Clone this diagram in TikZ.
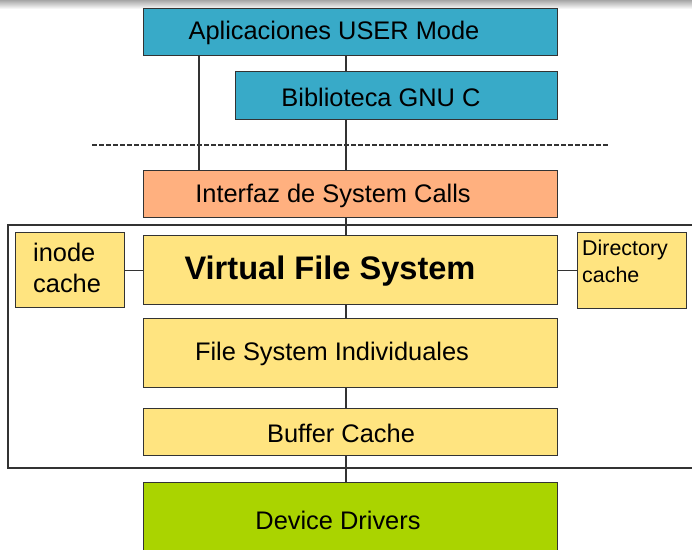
\documentclass[tikz,border=0pt]{standalone}
\usepackage{fontspec}
\setmainfont{Liberation Sans}
\definecolor{tealc}{RGB}{56,170,200}
\definecolor{salmonc}{RGB}{255,176,127}
\definecolor{yellowc}{RGB}{255,228,128}
\definecolor{greenc}{RGB}{170,212,0}
\definecolor{linec}{RGB}{51,51,51}
\begin{document}
\begin{tikzpicture}[x=1bp,y=-1bp,
  box/.style={draw=linec, line width=1.2bp, anchor=north west, inner sep=0pt, minimum width=#1},
  lbl/.style={font=\fontsize{25.5}{30}\selectfont, inner sep=0pt},
  conn/.style={draw=linec, line width=1.2bp}]
\useasboundingbox (0,0) rectangle (692,550);
\shade[top color=gray!70, bottom color=white] (0,0) rectangle (692,9);
% outer frame
\draw[draw=linec, line width=1.2bp] (700,225) -- (8,225) -- (8,468) -- (700,468);
% boxes
\node[box=414bp, minimum height=47bp, fill=tealc] (apps) at (143,8) {};
\node[box=322bp, minimum height=48bp, fill=tealc] (bib) at (235,71) {};
\node[box=414bp, minimum height=47bp, fill=salmonc] (sc) at (143,170) {};
\node[box=414bp, minimum height=69bp, fill=yellowc] (vfs) at (143,235) {};
\node[box=109bp, minimum height=75bp, fill=yellowc] (inode) at (15,232) {};
\node[box=109bp, minimum height=76bp, fill=yellowc] (dir) at (577,232) {};
\node[box=414bp, minimum height=69bp, fill=yellowc] (fsi) at (143,318) {};
\node[box=414bp, minimum height=47bp, fill=yellowc] (buf) at (143,408) {};
\node[box=414bp, minimum height=80bp, fill=greenc] (dev) at (143,482) {};
% texts
\node[lbl] (tapps) at (334,33) {Aplicaciones USER Mode};
\node[lbl] (tbib) at (381,97) {Biblioteca GNU C};
\node[lbl] (tsc) at (333,196) {Interfaz de System Calls};
\node[font=\fontsize{32.7}{38}\selectfont\bfseries, inner sep=0pt] (tvfs) at (330,271.5) {Virtual File System};
\node[lbl] (tfsi) at (332,354) {File System Individuales};
\node[lbl] (tbuf) at (341,433) {Buffer Cache};
\node[lbl] (tdev) at (338,520) {Device Drivers};
\node[font=\fontsize{25.5}{31}\selectfont, align=left, inner sep=0pt, anchor=north west] (tinode) at (33,243) {inode\\cache};
\node[font=\fontsize{21.5}{27}\selectfont, align=left, inner sep=0pt, anchor=north west] (tdir) at (582,240) {Directory\\cache};
% dashed separator
\coordinate (dl) at (92,145);
\coordinate (dr) at (608,145);
\draw[draw=linec, line width=1.3bp, dash pattern=on 5bp off 2bp] (dl) -- (dr);
% connectors
\coordinate (xl) at (199,0);
\coordinate (xm) at (346,0);
\draw[conn] (apps.south -| xl) -- (sc.north -| xl);
\draw[conn] (apps.south -| xm) -- (bib.north -| xm);
\draw[conn] (bib.south -| xm) -- (sc.north -| xm);
\draw[conn] (sc.south -| xm) -- (vfs.north -| xm);
\draw[conn] (vfs.south -| xm) -- (fsi.north -| xm);
\draw[conn] (fsi.south -| xm) -- (buf.north -| xm);
\draw[conn] (buf.south -| xm) -- (dev.north -| xm);
\draw[conn] (inode.east) -- (vfs.west |- inode.east);
\draw[conn] (vfs.east |- dir.west) -- (dir.west);
\end{tikzpicture}
\end{document}
